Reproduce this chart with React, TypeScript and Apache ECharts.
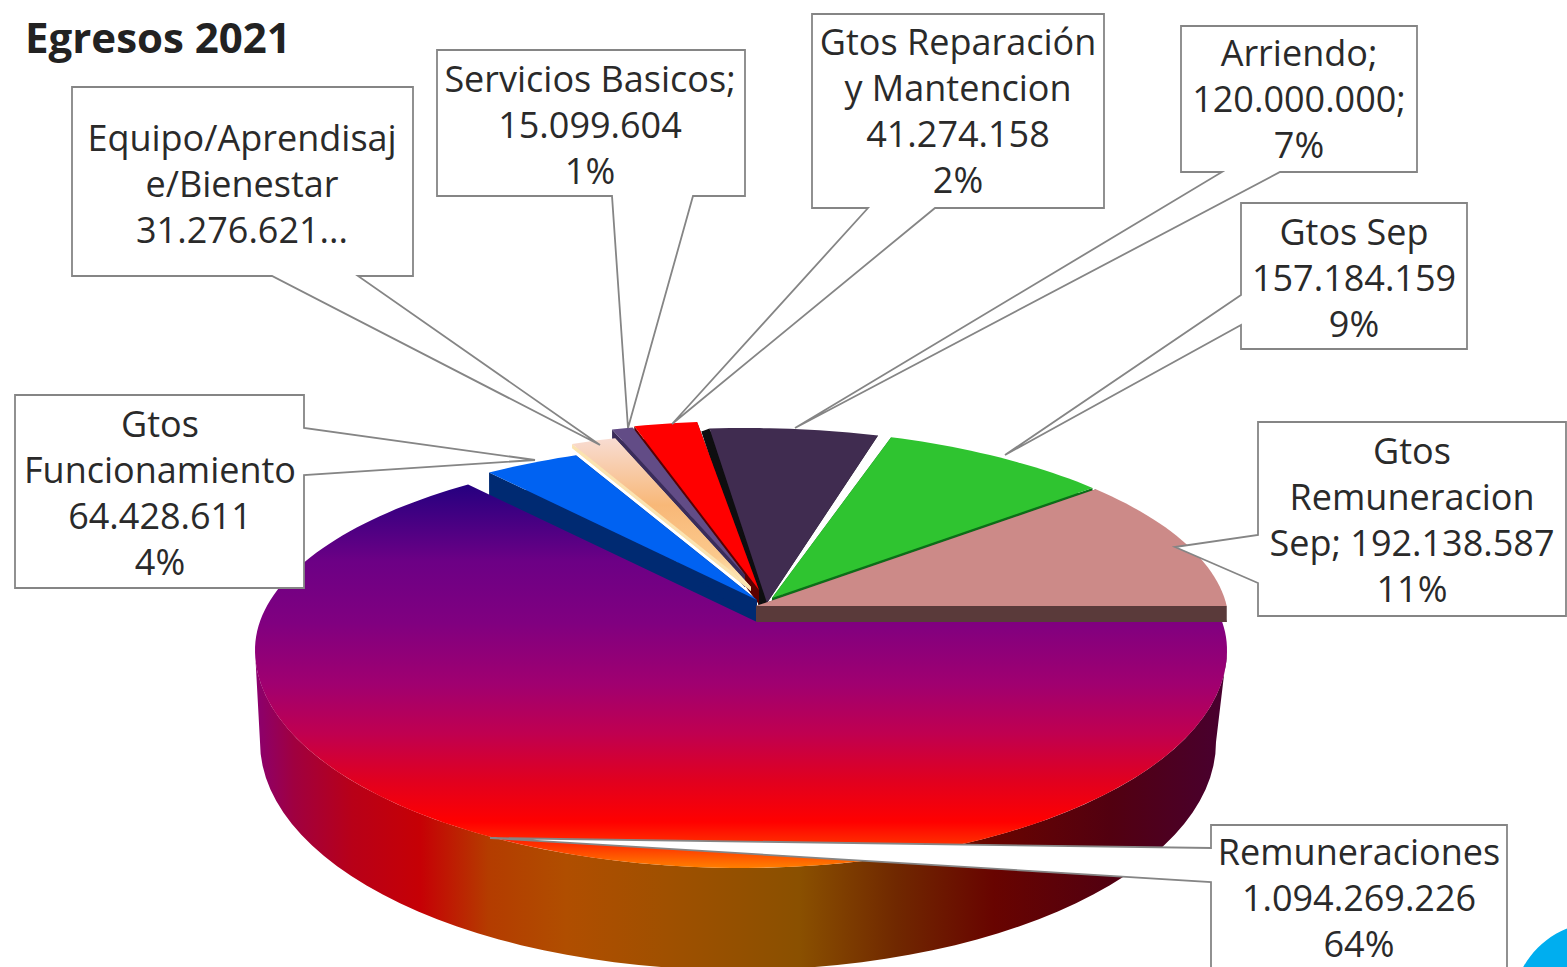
import React, { useEffect, useRef } from "react";
import * as echarts from "echarts";

// Clockwise from 3 o'clock, as the slices run in the picture.
const categories = [
  "Remuneraciones",
  "Gtos Funcionamiento",
  "Equipo/Aprendisaje/Bienestar",
  "Servicios Basicos",
  "Gtos Reparación y Mantencion",
  "Arriendo",
  "Gtos Sep",
  "Gtos Remuneracion Sep",
];
const values = [1094269226, 64428611, 31276621, 15099604, 41274158, 120000000, 157184159, 192138587];
const labelTexts = [
  "Remuneraciones\n1.094.269.226\n64%",
  "Gtos\nFuncionamiento\n64.428.611\n4%",
  "Equipo/Aprendisaj\ne/Bienestar\n31.276.621...",
  "Servicios Basicos;\n15.099.604\n1%",
  "Gtos Reparación\ny Mantencion\n41.274.158\n2%",
  "Arriendo;\n120.000.000;\n7%",
  "Gtos Sep\n157.184.159\n9%",
  "Gtos\nRemuneracion\nSep; 192.138.587\n11%",
];
const titleText = "Egresos 2021";

const FONT = "Open Sans";
const total = values.reduce((a, b) => a + b, 0);
const DIR_RATIO = 2.47;

// Per-slice explosion geometry (apex, rim ellipse) and paint.
const geom: any[] = [
  { apex: [757, 622], c: [741, 650], rx: 486, up: 200, down: 218, shift: [0, 0], z: 20 },
  { apex: [757, 600], c: [745, 638], rx: 484, up: 195, down: 195, shift: [0, 26], z: 14 },
  { apex: [751, 587], c: [745, 628], rx: 484, up: 197, down: 197, shift: [0, 4], z: 13 },
  { apex: [745, 575], c: [745, 619], rx: 484, up: 197, down: 197, shift: [0, 12], z: 12 },
  { apex: [759, 590], c: [745, 618], rx: 484, up: 197, down: 197, shift: [0, 14], z: 11 },
  { apex: [767, 603], c: [745, 625], rx: 484, up: 197, down: 197, shift: [-8, 3], z: 10, ratio: 2.21 },
  { apex: [772, 598], c: [745, 625], rx: 484, up: 197, down: 197, shift: [0, 11], z: 15 },
  { apex: [756, 606], c: [745, 625], rx: 484, up: 197, down: 197, shift: [0, 16], z: 16 },
];
const grad = (stops: [number, string][], horizontal = false) =>
  new echarts.graphic.LinearGradient(0, 0, horizontal ? 1 : 0, horizontal ? 0 : 1,
    stops.map(([offset, color]) => ({ offset, color })));
const topFills: any[] = [
  grad([[0, "#250080"], [0.2, "#6c0085"], [0.36, "#800080"], [0.52, "#a00070"], [0.65, "#c00050"],
    [0.77, "#e00020"], [0.88, "#ff0000"], [0.94, "#ff3000"], [1, "#ff8000"]]),
  "#0062f2",
  grad([[0, "#f8dcd2"], [0.45, "#f8b878"], [0.8, "#fbc98c"], [1, "#fff2c8"]]),
  "#624c86",
  "#ff0000",
  "#402c50",
  "#2fc430",
  "#cc8a88",
];
const sideFills = ["#000", "#002a72", "#fbe3b0", "#3a2c5a", "#5c0000", "#0e0e10", "#0c6e18", "#5a3a3a"];
const mainSideFill = grad([[0, "#8a0070"], [0.04, "#a00040"], [0.1, "#b80018"], [0.17, "#c60005"], [0.24, "#b43c00"],
  [0.32, "#b04e00"], [0.42, "#a05000"], [0.56, "#8a5000"], [0.66, "#702800"], [0.76, "#680400"], [0.88, "#520010"], [1, "#480030"]], true);

const callouts = [
  { pts: [[1211, 825], [1507, 825], [1507, 990], [1211, 990], [1211, 882], [490, 838], [1211, 848]], tx: 1359, ty: 897 },
  { pts: [[15, 395], [304, 395], [304, 428], [535, 460], [304, 475], [304, 588], [15, 588]], tx: 160, ty: 492 },
  { pts: [[72, 87], [413, 87], [413, 276], [358, 276], [600, 445], [272, 276], [72, 276]], tx: 242, ty: 183 },
  { pts: [[437, 50], [745, 50], [745, 196], [693, 196], [628, 428], [612, 196], [437, 196]], tx: 590, ty: 124 },
  { pts: [[812, 14], [1104, 14], [1104, 208], [935, 208], [672, 424], [868, 208], [812, 208]], tx: 958, ty: 110 },
  { pts: [[1181, 26], [1417, 26], [1417, 172], [1280, 172], [795, 428], [1222, 172], [1181, 172]], tx: 1299, ty: 98 },
  { pts: [[1241, 203], [1467, 203], [1467, 349], [1241, 349], [1241, 325], [1005, 455], [1241, 295]], tx: 1354, ty: 277 },
  { pts: [[1258, 422], [1566, 422], [1566, 616], [1258, 616], [1258, 583], [1175, 547], [1258, 535]], tx: 1412, ty: 519 },
];

function rimPoint(g: any, deg: number): number[] {
  const a = (deg * Math.PI) / 180;
  const dx = Math.cos(a) * (g.ratio || DIR_RATIO);
  const dy = Math.sin(a);
  const inside = (t: number) => {
    const x = g.apex[0] + dx * t - g.c[0];
    const y = g.apex[1] + dy * t - g.c[1];
    const ry = y < 0 ? g.up : g.down;
    return (x * x) / (g.rx * g.rx) + (y * y) / (ry * ry) <= 1;
  };
  let lo = 0;
  let hi = 600;
  for (let i = 0; i < 40; i++) {
    const mid = (lo + hi) / 2;
    if (inside(mid)) lo = mid;
    else hi = mid;
  }
  return [g.apex[0] + dx * lo, g.apex[1] + dy * lo];
}

function renderSlice(_params: any, api: any) {
  const index = api.value(0);
  let before = 0;
  for (let i = 0; i < index; i++) before += values[i];
  const a0 = (before / total) * 360;
  const a1 = ((before + api.value(1)) / total) * 360;
  const g = geom[index];
  const rim: number[][] = [];
  const steps = Math.max(4, Math.ceil((a1 - a0) / 1.5));
  for (let i = 0; i <= steps; i++) rim.push(rimPoint(g, a0 + ((a1 - a0) * i) / steps));
  const top = [g.apex, ...rim];
  const children: any[] = [];
  if (index === 0) {
    const b = { c: [738, 742], rx: 478, ry: 228 };
    const side: number[][] = [];
    for (let d = 0; d <= 180; d += 3) {
      const r = (d * Math.PI) / 180;
      side.push([g.c[0] + g.rx * Math.cos(r), g.c[1] + g.down * Math.sin(r)]);
    }
    for (let d = 180; d >= 0; d -= 3) {
      const r = (d * Math.PI) / 180;
      side.push([b.c[0] + b.rx * Math.cos(r), b.c[1] + b.ry * Math.sin(r)]);
    }
    children.push({ type: "polygon", z2: 1, shape: { points: side }, style: { fill: mainSideFill } });
  } else {
    const shift = (p: number[]) => [p[0] + g.shift[0], p[1] + g.shift[1]];
    const first = rim[0];
    const last = rim[rim.length - 1];
    children.push(
      { type: "polygon", z2: g.z, shape: { points: top.map(shift) }, style: { fill: sideFills[index] } },
      { type: "polygon", z2: g.z, shape: { points: [g.apex, first, shift(first), shift(g.apex)] }, style: { fill: sideFills[index] } },
      { type: "polygon", z2: g.z, shape: { points: [g.apex, last, shift(last), shift(g.apex)] }, style: { fill: sideFills[index] } },
    );
  }
  children.push({ type: "polygon", z2: g.z + 0.5, shape: { points: top }, style: { fill: topFills[index] } });
  return { type: "group", children };
}

export default function App() {
  const ref = useRef<HTMLDivElement>(null);
  useEffect(() => {
    const chart = echarts.init(ref.current!, undefined, { renderer: "svg" });
    const graphic: any[] = [
      { type: "circle", z: 5, shape: { cx: 1600, cy: 1010, r: 88 }, style: { fill: "#00aeef" } },
      {
        type: "text", z: 12, x: 25, y: 36,
        style: { text: titleText, fontFamily: FONT, fontWeight: "bold", fontSize: 42, fill: "#222", textAlign: "left", textVerticalAlign: "middle" },
      },
    ];
    callouts.forEach((c, i) => {
      graphic.push({
        type: "polygon", z: 10, shape: { points: c.pts },
        style: { fill: "#fff", stroke: "#858585", lineWidth: 1.8 },
      });
      graphic.push({
        type: "text", z: 11, x: c.tx, y: c.ty,
        style: { text: labelTexts[i], fontFamily: FONT, fontSize: 36, lineHeight: 46, fill: "#2a2a2a", textAlign: "center", textVerticalAlign: "middle" },
      });
    });
    chart.setOption({
      animation: false,
      backgroundColor: "#fff",
      graphic,
      series: [
        {
          type: "custom",
          name: titleText,
          coordinateSystem: "none",
          renderItem: renderSlice,
          data: values.map((v, i) => ({ name: categories[i], value: [i, v] })),
          silent: true,
        },
      ],
    });
    return () => chart.dispose();
  }, []);
  return <div ref={ref} style={{ position: "fixed", left: 0, top: 0, width: 1567, height: 967 }} />;
}
